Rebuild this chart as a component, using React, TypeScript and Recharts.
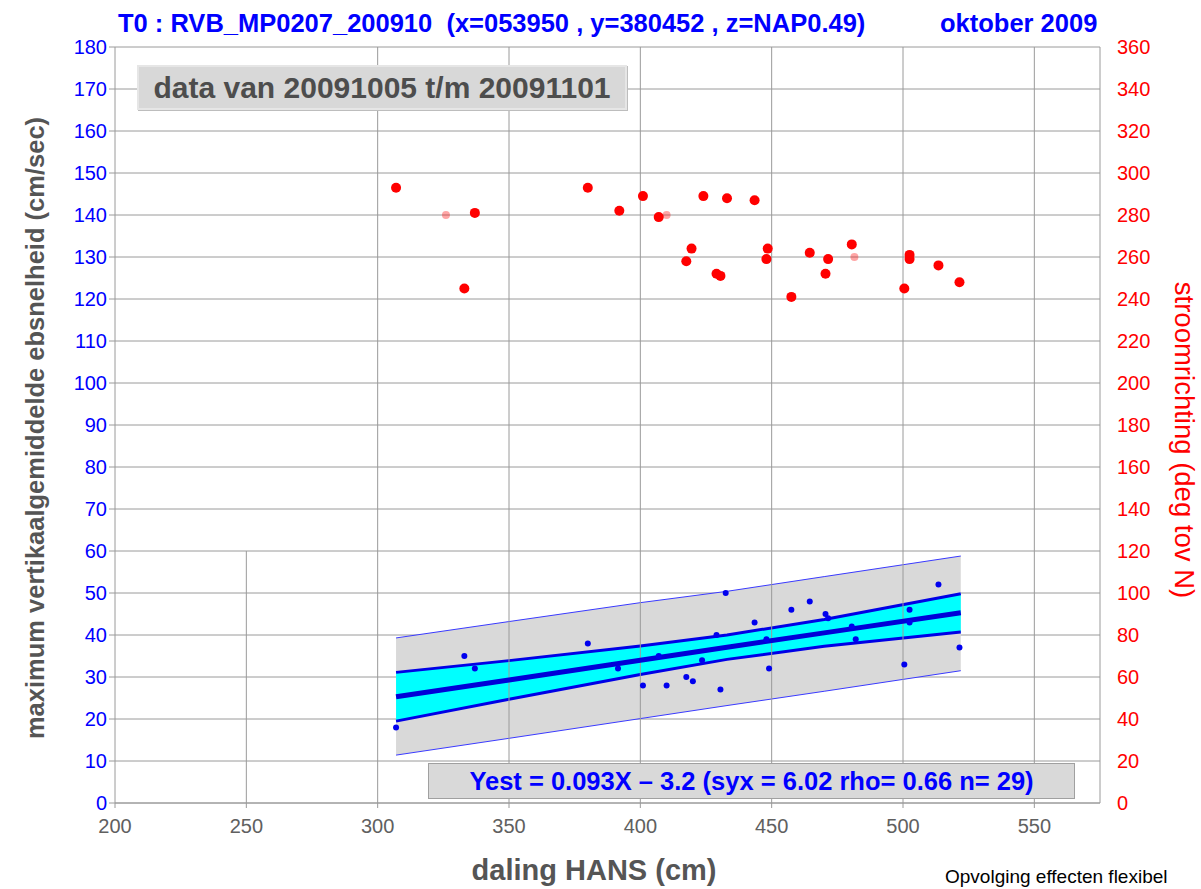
import {
  ComposedChart,
  XAxis,
  YAxis,
  CartesianGrid,
  Area,
  Line,
  Scatter,
  ReferenceLine,
} from "recharts";

// axis ticks
const xTicks = [200, 250, 300, 350, 400, 450, 500, 550];
const leftTicks = [0, 10, 20, 30, 40, 50, 60, 70, 80, 90, 100, 110, 120, 130, 140, 150, 160, 170, 180];
const rightTicks = [0, 20, 40, 60, 80, 100, 120, 140, 160, 180, 200, 220, 240, 260, 280, 300, 320, 340, 360];

// regression fit + bands
const bandX = [307, 350, 400, 433, 470, 522];
const fitLine = [25.3, 29.3, 34.0, 37.1, 40.5, 45.3];
const confLow = [19.5, 24.7, 30.6, 34.2, 37.3, 40.7];
const confHigh = [31.1, 33.9, 37.4, 40.0, 43.7, 49.8];
const predLow = [11.4, 15.4, 20.1, 23.2, 26.6, 31.5];
const predHigh = [39.3, 43.2, 47.7, 50.4, 53.9, 58.8];

// daling vs max snelheid
const speedX = [307, 333, 337, 380, 391.5, 401, 407, 410, 417.5, 420, 423.5, 429, 430.5, 432.5, 443.5, 448, 449, 457.5, 464.5, 470.5, 471.5, 480.5, 482, 500.5, 502.5, 502.5, 513.5, 521.5];
const speedY = [18, 35, 32, 38, 32, 28, 35, 28, 30, 29, 34, 40, 27, 50, 43, 39, 32, 46, 48, 45, 44, 42, 39, 33, 46, 43, 52, 37];

// daling vs stroomrichting
const dirX = [307, 337, 333, 380, 392, 401, 407, 424, 433, 443.5, 419.5, 417.5, 429, 430.5, 448.5, 448, 464.5, 471.5, 470.5, 457.5, 480.5, 502.5, 502.5, 500.5, 513.5, 521.5];
const dirD = [293, 281, 245, 293, 282, 289, 279, 289, 288, 287, 264, 258, 252, 251, 264, 259, 262, 259, 252, 241, 266, 261, 259, 245, 256, 248];
const faintX = [326, 410, 481.5];
const faintD = [280, 280, 260];

const bandData = bandX.map((x, i) => ({
  x,
  fit: fitLine[i],
  conf: [confLow[i], confHigh[i]],
  pred: [predLow[i], predHigh[i]],
}));
const speedData = speedX.map((x, i) => ({ x, y: speedY[i] }));
const dirData = dirX.map((x, i) => ({ x, d: dirD[i] }));
const faintData = faintX.map((x, i) => ({ x, d: faintD[i] }));

const FONT = "'Liberation Sans', Arial, sans-serif";
const GRID = "#9a9a9a";

export default function App() {
  return (
    <div style={{ position: "absolute", left: 0, top: 0, width: 1201, height: 889, background: "#fff", fontFamily: FONT, overflow: "hidden" }}>
      <ComposedChart
        width={1201}
        height={889}
        data={bandData}
        margin={{ top: 47, right: 0, bottom: 0, left: 0 }}
      >
        <CartesianGrid stroke={GRID} vertical={false} horizontalValues={leftTicks} yAxisId="left" />
        <XAxis
          dataKey="x"
          type="number"
          domain={[200, 575]}
          ticks={xTicks}
          allowDataOverflow
          height={86}
          stroke={GRID}
          tickSize={5}
          tickMargin={11}
          tick={{ fill: "#606060", fontSize: 20, fontFamily: FONT }}
        />
        <YAxis
          yAxisId="left"
          dataKey="y"
          type="number"
          domain={[0, 180]}
          ticks={leftTicks}
          allowDataOverflow
          width={115}
          stroke={GRID}
          tickSize={6}
          tickMargin={2}
          tick={{ fill: "#0000ff", fontSize: 20, fontFamily: FONT }}
        />
        <YAxis
          yAxisId="right"
          orientation="right"
          dataKey="d"
          type="number"
          domain={[0, 360]}
          ticks={rightTicks}
          allowDataOverflow
          width={101}
          stroke={GRID}
          tickLine={false}
          tickSize={0}
          tickMargin={17}
          tick={{ fill: "#ff0000", fontSize: 20, fontFamily: FONT, textAnchor: "start" }}
        />
        {[300, 350, 400, 450, 500, 550].map((v) => (
          <ReferenceLine key={v} x={v} yAxisId="left" stroke={GRID} />
        ))}
        <ReferenceLine yAxisId="left" segment={[{ x: 250, y: 0 }, { x: 250, y: 60 }]} stroke={GRID} />
        <Area
          yAxisId="left"
          dataKey="pred"
          type="linear"
          fill="#d9d9d9"
          fillOpacity={1}
          stroke="#3a3aff"
          strokeWidth={1}
          isAnimationActive={false}
        />
        <Area
          yAxisId="left"
          dataKey="conf"
          type="linear"
          fill="#00ffff"
          fillOpacity={1}
          stroke="#0000e6"
          strokeWidth={3}
          isAnimationActive={false}
        />
        <Line
          yAxisId="left"
          dataKey="fit"
          type="linear"
          stroke="#0000d8"
          strokeWidth={5}
          dot={false}
          isAnimationActive={false}
        />
        <Scatter
          yAxisId="left"
          data={speedData}
          dataKey="y"
          fill="#0000ee"
          isAnimationActive={false}
          shape={(p: any) => <circle cx={p.cx} cy={p.cy} r={3} fill="#0000ee" />}
        />
        <Scatter
          yAxisId="right"
          data={dirData}
          dataKey="d"
          fill="#ff0000"
          isAnimationActive={false}
          shape={(p: any) => <circle cx={p.cx} cy={p.cy} r={5} fill="#ff0000" />}
        />
        <Scatter
          yAxisId="right"
          data={faintData}
          dataKey="d"
          fill="#ff0000"
          isAnimationActive={false}
          shape={(p: any) => <circle cx={p.cx} cy={p.cy} r={4} fill="#ff0000" fillOpacity={0.35} />}
        />
      </ComposedChart>

      {/* titel */}
      <div style={{ position: "absolute", left: 118, top: 9, fontSize: 25.5, fontWeight: "bold", color: "#0000ff", whiteSpace: "pre" }}>
        {"T0 : RVB_MP0207_200910  (x=053950 , y=380452 , z=NAP0.49)"}
      </div>
      <div style={{ position: "absolute", left: 940, top: 9, fontSize: 25.5, fontWeight: "bold", color: "#0000ff", whiteSpace: "pre" }}>
        oktober 2009
      </div>

      {/* periode */}
      <div
        style={{
          position: "absolute",
          left: 137,
          top: 65,
          width: 490,
          height: 45,
          background: "#d8d8d8",
          border: "2px solid #e6e6e6",
          boxShadow: "1px 1px 0 #bdbdbd",
          boxSizing: "border-box",
          display: "flex",
          alignItems: "center",
          justifyContent: "center",
          fontSize: 30,
          fontWeight: "bold",
          color: "#4d4d4d",
          whiteSpace: "pre",
        }}
      >
        data van 20091005 t/m 20091101
      </div>

      {/* regressie */}
      <div
        style={{
          position: "absolute",
          left: 428,
          top: 763,
          width: 647,
          height: 36,
          background: "#d9d9d9",
          border: "1px solid #a0a0a0",
          boxSizing: "border-box",
          display: "flex",
          alignItems: "center",
          justifyContent: "center",
          fontSize: 25.5,
          fontWeight: "bold",
          color: "#0000ff",
          whiteSpace: "pre",
        }}
      >
        {"Yest = 0.093X \u2013 3.2 (syx = 6.02 rho= 0.66 n= 29)"}
      </div>

      {/* as-titels */}
      <div
        style={{
          position: "absolute",
          left: 35,
          top: 428,
          transform: "translate(-50%, -50%) rotate(-90deg)",
          fontSize: 25.5,
          fontWeight: "bold",
          color: "#555555",
          whiteSpace: "pre",
        }}
      >
        maximum vertikaalgemiddelde ebsnelheid (cm/sec)
      </div>
      <div
        style={{
          position: "absolute",
          left: 1184,
          top: 440,
          transform: "translate(-50%, -50%) rotate(90deg)",
          fontSize: 27.5,
          color: "#ff0000",
          whiteSpace: "pre",
        }}
      >
        stroomrichting (deg tov N)
      </div>
      <div
        style={{
          position: "absolute",
          left: 594,
          top: 870,
          transform: "translate(-50%, -50%)",
          fontSize: 29,
          fontWeight: "bold",
          color: "#555555",
          whiteSpace: "pre",
        }}
      >
        daling HANS (cm)
      </div>
      <div style={{ position: "absolute", left: 945, top: 866, fontSize: 19, color: "#000", whiteSpace: "pre" }}>
        Opvolging effecten flexibel
      </div>
    </div>
  );
}
